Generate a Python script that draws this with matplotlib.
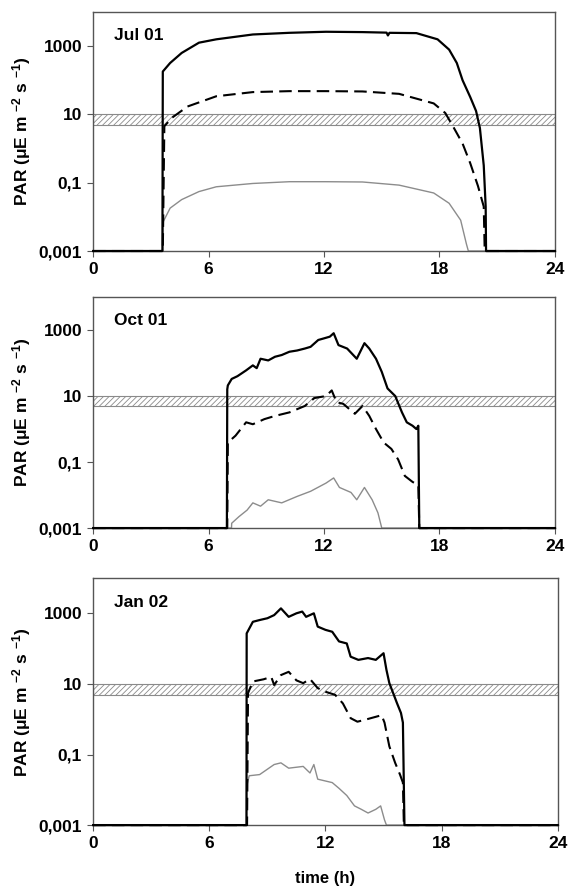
import numpy as np
import matplotlib
matplotlib.use("Agg")
import matplotlib.pyplot as plt

plt.rcParams['font.family'] = ['Liberation Sans', 'DejaVu Sans']
plt.rcParams['font.weight'] = 'bold'
plt.rcParams['mathtext.fontset'] = 'custom'
plt.rcParams['mathtext.rm'] = 'Liberation Sans:bold'
plt.rcParams['mathtext.bf'] = 'Liberation Sans:bold'
plt.rcParams['mathtext.it'] = 'Liberation Sans:bold'
plt.rcParams['hatch.color'] = '#888888'
plt.rcParams['hatch.linewidth'] = 0.6

# ---- Jul 01 ----
jul_t_surf = [0, 3.6, 3.62, 4.0, 4.6, 5.5, 6.4, 8.3, 10.2, 12.1, 14.0, 15.25, 15.32, 15.4, 16.8,
              17.9, 18.5, 18.9, 19.2, 19.6, 19.9, 20.1, 20.3, 20.4, 20.42, 24]
jul_surf = [0.001, 0.001, 180, 320, 630, 1260, 1580, 2190, 2450, 2630, 2570, 2480, 2050, 2450,
            2400, 1580, 790, 320, 100, 32, 12.6, 4, 0.32, 0.02, 0.001, 0.001]
jul_t_mid = [0, 3.62, 3.7, 4.1, 4.9, 6.4, 8.3, 10.2, 12.1, 14.0, 15.9, 17.7, 18.3, 18.7,
             19.2, 19.6, 20.0, 20.3, 20.35, 24]
jul_mid = [0.001, 0.001, 4.5, 8, 17, 34, 45, 48, 48, 47, 40, 21, 11, 4.5,
           1.4, 0.37, 0.08, 0.02, 0.001, 0.001]
jul_t_deep = [0, 3.62, 3.63, 4.0, 4.6, 5.5, 6.4, 8.3, 10.2, 12.1, 14.0, 15.9, 17.7, 18.5,
              19.1, 19.4, 19.5, 24]
jul_deep = [0.001, 0.001, 0.007, 0.018, 0.032, 0.055, 0.076, 0.095, 0.107, 0.107, 0.105, 0.085,
            0.05, 0.025, 0.008, 0.0016, 0.001, 0.001]

# ---- Oct 01 ----
oct_t_surf = [0, 6.95, 6.97, 7.0, 7.2, 7.5, 7.95, 8.3, 8.5, 8.7, 9.1, 9.45, 9.8, 10.2, 10.6, 11.0,
              11.3, 11.7, 12.0, 12.3, 12.5, 12.75, 13.2, 13.7, 14.1, 14.35, 14.7, 15.0, 15.3,
              15.7, 16.05, 16.3, 16.6, 16.8, 16.9, 16.95, 24]
oct_surf = [0.001, 0.001, 16, 21, 33, 40, 60, 85, 70, 135, 120, 155, 175, 220, 240, 275,
            310, 500, 560, 630, 800, 350, 275, 135, 400, 275, 135, 54, 17,
            10, 3.2, 1.6, 1.26, 1.0, 1.26, 0.001, 0.001]
oct_t_mid = [0, 6.97, 7.0, 7.4, 7.95, 8.3, 8.9, 9.45, 10.2, 11.0, 11.5, 12.1, 12.4, 12.65, 13.0,
             13.6, 14.0, 14.35, 14.7, 15.1, 15.5, 15.85, 16.2, 16.6, 16.9, 16.95, 24]
oct_mid = [0.001, 0.001, 0.39, 0.63, 1.6, 1.4, 2.0, 2.5, 3.2, 5.0, 8.7, 10, 14.8, 6.5, 5.8,
           2.9, 5.0, 2.5, 1.0, 0.39, 0.25, 0.12, 0.038, 0.025, 0.02, 0.001, 0.001]
oct_t_deep = [0, 7.19, 7.2, 7.57, 8.0, 8.3, 8.7, 9.1, 9.8, 10.6, 11.3, 12.1, 12.5, 12.8, 13.4,
              13.7, 14.1, 14.5, 14.8, 15.0, 24]
oct_deep = [0.001, 0.001, 0.0014, 0.0022, 0.0035, 0.0058, 0.0046, 0.0072, 0.0058, 0.0091, 0.013,
            0.023, 0.033, 0.017, 0.012, 0.0072, 0.017, 0.0072, 0.0029, 0.001, 0.001]

# ---- Jan 02 ----
jan_t_surf = [0, 7.92, 7.93, 8.25, 8.6, 9.0, 9.35, 9.7, 10.1, 10.5, 10.8, 11.0, 11.4, 11.6, 12.0,
              12.35, 12.7, 13.1, 13.3, 13.7, 14.2, 14.6, 15.0, 15.15, 15.3, 15.7, 15.9, 16.0,
              16.08, 24]
jan_surf = [0.001, 0.001, 270, 575, 645, 725, 890, 1380, 795, 1000, 1120, 795, 1000, 420, 340,
            300, 160, 140, 59, 48, 54, 48, 74, 25, 10.5, 2.8, 1.5, 0.8,
            0.001, 0.001]
jan_t_mid = [0, 7.95, 8.0, 8.25, 8.8, 9.2, 9.35, 9.7, 10.1, 10.5, 10.85, 11.2, 11.6, 12.0, 12.5,
             12.9, 13.3, 13.65, 14.0, 14.6, 14.9, 15.05, 15.3, 15.6, 15.85, 16.0, 16.05, 24]
jan_mid = [0.001, 0.001, 5.5, 11.7, 13.5, 15.8, 9.3, 17.8, 22, 12.6, 10.5, 13.8, 7.6, 6.0, 4.9,
           2.8, 1.07, 0.85, 0.95, 1.17, 1.3, 0.8, 0.17, 0.058, 0.027, 0.016, 0.001, 0.001]
jan_t_deep = [0, 7.92, 7.93, 8.06, 8.6, 9.35, 9.7, 10.1, 10.85, 11.2, 11.4, 11.6, 12.35, 12.7,
              13.1, 13.5, 13.85, 14.2, 14.6, 14.85, 15.05, 15.15, 24]
jan_deep = [0.001, 0.001, 0.0126, 0.025, 0.027, 0.052, 0.058, 0.041, 0.046, 0.03, 0.052, 0.02,
            0.016, 0.011, 0.0069, 0.0035, 0.0028, 0.0022, 0.0028, 0.0035, 0.0014, 0.001, 0.001]

panels = [
    ("Jul 01", jul_t_surf, jul_surf, jul_t_mid, jul_mid, jul_t_deep, jul_deep),
    ("Oct 01", oct_t_surf, oct_surf, oct_t_mid, oct_mid, oct_t_deep, oct_deep),
    ("Jan 02", jan_t_surf, jan_surf, jan_t_mid, jan_mid, jan_t_deep, jan_deep),
]

band = (5, 10)  # hatched PAR band
yticks = [0.001, 0.1, 10, 1000]
yticklabels = ["0,001", "0,1", "10", "1000"]
xticks = [0, 6, 12, 18, 24]

# axes boxes in figure fractions: left, bottom, width, height
boxes = [
    [0.164, 0.7186, 0.813, 0.268],
    [0.164, 0.408, 0.813, 0.259],
    [0.164, 0.075, 0.818, 0.277],
]

fig = plt.figure(figsize=(5.68, 8.92), dpi=100)

for box, (label, ts, s, tm, m, td, d) in zip(boxes, panels):
    ax = fig.add_axes(box)
    ax.set_yscale('log')
    ax.fill_between([0, 24], band[0], band[1], facecolor='white', edgecolor='#8a8a8a',
                    hatch='//////', linewidth=0.8, zorder=1)
    ax.plot(td, d, color='#8c8c8c', lw=1.0, zorder=2, clip_on=False)
    ax.plot(tm, m, color='black', lw=1.5, ls=(0, (6, 3)), zorder=3, clip_on=False)
    ax.plot(ts, s, color='black', lw=1.6, zorder=4, clip_on=False)
    ax.set_xlim(0, 24)
    ax.set_ylim(1e-3, 1e4)
    ax.set_xticks(xticks)
    ax.set_xticklabels([str(x) for x in xticks])
    ax.set_yticks(yticks)
    ax.set_yticklabels(yticklabels)
    ax.minorticks_off()
    ax.tick_params(direction='out', length=4, width=0.8, color='#555555', labelsize=12.5, pad=4)
    for sp in ax.spines.values():
        sp.set_color('#555555')
        sp.set_linewidth(1.0)
    ax.text(0.045, 0.9, label, transform=ax.transAxes, fontsize=12.5, fontweight='bold',
            va='center', ha='left')
    ax.set_ylabel(r"PAR ($\mu$E m $^{-2}$ s $^{-1}$)", fontsize=12.5, fontweight='bold',
                  labelpad=4)
    if label == "Jan 02":
        ax.set_xlabel("time (h)", fontsize=12, fontweight='bold', labelpad=14)

fig.savefig("out.png", dpi=100)
